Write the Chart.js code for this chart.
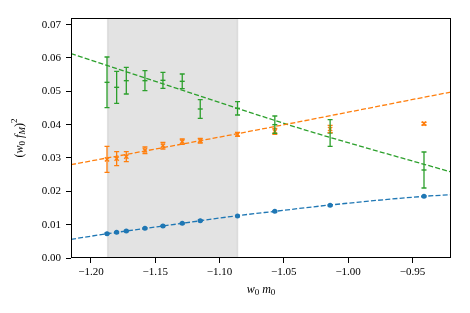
<!DOCTYPE html>
<html>
<head>
<meta charset="utf-8">
<script src="https://cdn.jsdelivr.net/npm/chart.js@4.4.1/dist/chart.umd.min.js"></script>
<style>
  html, body { margin: 0; padding: 0; background: #fff; }
  #wrap { width: 470px; height: 313px; }
</style>
</head>
<body>
<div id="wrap"><canvas id="myChart" width="470" height="313"></canvas></div>
<script>
const xVals = [-1.1875, -1.180, -1.1725, -1.158, -1.144, -1.129, -1.115, -1.086, -1.057, -1.014, -0.941];

const blueY = [0.0073, 0.0077, 0.0081, 0.0089, 0.0096, 0.0104, 0.0112, 0.0126, 0.0140, 0.0158, 0.0185];
const blueErr = [0.0002, 0.0002, 0.0002, 0.0002, 0.0002, 0.0002, 0.0002, 0.0002, 0.0002, 0.0002, 0.0002];

const orangeY = [0.0296, 0.0298, 0.0304, 0.0323, 0.0337, 0.0349, 0.0352, 0.0371, 0.0380, 0.0387, 0.0403];
const orangeErr = [0.0039, 0.0021, 0.0015, 0.0010, 0.0010, 0.0008, 0.0007, 0.0006, 0.0009, 0.0011, 0.0004];

const greenY = [0.0527, 0.0512, 0.0532, 0.0532, 0.0533, 0.0530, 0.0447, 0.0449, 0.0400, 0.0375, 0.0264];
const greenErr = [0.0076, 0.0048, 0.0040, 0.0030, 0.0024, 0.0022, 0.0028, 0.0020, 0.0026, 0.0040, 0.0054];

// fit curves
const blueFitX = [-1.2155, -1.187, -1.129, -1.086, -1.057, -1.014, -0.941, -0.920];
const blueFitY = [0.0056, 0.0073, 0.0104, 0.0127, 0.0140, 0.0159, 0.0185, 0.0190];
const orangeFitX = [-1.2155, -1.086, -0.920];
const orangeFitY = [0.0280, 0.0373, 0.0498];
const greenFitX = [-1.2155, -1.187, -1.086, -1.0325, -0.920];
const greenFitY = [0.0613, 0.0577, 0.0449, 0.0383, 0.0258];

const shadeRange = [-1.187, -1.086];

const xTicks = [-1.20, -1.15, -1.10, -1.05, -1.00, -0.95];
const yTicks = [0.00, 0.01, 0.02, 0.03, 0.04, 0.05, 0.06, 0.07];
const xRange = [-1.2155, -0.920];
const yRange = [0, 0.072];

const BLUE = '#1f77b4';
const ORANGE = '#ff7f0e';
const GREEN = '#2ca02c';
const FONT = "'Liberation Serif', 'DejaVu Serif', serif";

const pts = (xs, ys) => xs.map((x, i) => ({ x, y: ys[i] }));

function fitLine(xs, ys, color) {
    return {
        type: 'line',
        data: pts(xs, ys),
        borderColor: color,
        borderWidth: 1.3,
        borderDash: [5, 2.2],
        pointRadius: 0,
        cubicInterpolationMode: 'monotone',
        fill: false,
        order: 5,
    };
}

function markers(ys, errs, color, style, radius) {
    return {
        type: 'scatter',
        data: pts(xVals, ys),
        errs,
        borderColor: color,
        backgroundColor: color,
        pointStyle: style,
        pointRadius: radius,
        pointBorderWidth: 1.4,
        order: 1,
    };
}

// shaded band behind everything
const shadePlugin = {
    id: 'shade',
    beforeDatasetsDraw(chart) {
        const { ctx, chartArea, scales } = chart;
        const x0 = scales.x.getPixelForValue(shadeRange[0]);
        const x1 = scales.x.getPixelForValue(shadeRange[1]);
        ctx.save();
        ctx.fillStyle = 'rgba(128,128,128,0.22)';
        ctx.fillRect(x0, chartArea.top, x1 - x0, chartArea.bottom - chartArea.top);
        ctx.strokeStyle = 'rgba(128,128,128,0.18)';
        ctx.lineWidth = 1.5;
        ctx.beginPath();
        ctx.moveTo(x0, chartArea.top); ctx.lineTo(x0, chartArea.bottom);
        ctx.moveTo(x1, chartArea.top); ctx.lineTo(x1, chartArea.bottom);
        ctx.stroke();
        ctx.restore();
    }
};

// error bars with caps
const errorPlugin = {
    id: 'errbars',
    afterDatasetsDraw(chart) {
        const { ctx, scales } = chart;
        ctx.save();
        chart.data.datasets.forEach((ds) => {
            if (!ds.errs) return;
            ctx.strokeStyle = ds.borderColor;
            ctx.lineWidth = 1.3;
            ds.data.forEach((p, i) => {
                const e = ds.errs[i];
                const px = scales.x.getPixelForValue(p.x);
                const top = scales.y.getPixelForValue(p.y + e);
                const bot = scales.y.getPixelForValue(p.y - e);
                ctx.beginPath();
                ctx.moveTo(px, top); ctx.lineTo(px, bot);
                ctx.moveTo(px - 2.5, top); ctx.lineTo(px + 2.5, top);
                ctx.moveTo(px - 2.5, bot); ctx.lineTo(px + 2.5, bot);
                ctx.stroke();
            });
        });
        ctx.restore();
    }
};

// frame + axis titles with sub/superscripts
function drawPieces(ctx, pieces, cx, cy) {
    let w = 0;
    pieces.forEach(p => { ctx.font = p.font; w += ctx.measureText(p.t).width; });
    let x = cx - w / 2;
    pieces.forEach(p => {
        ctx.font = p.font;
        ctx.fillText(p.t, x, cy + (p.dy || 0));
        x += ctx.measureText(p.t).width;
    });
}

const framePlugin = {
    id: 'frame',
    afterDraw(chart) {
        const { ctx, chartArea } = chart;
        ctx.save();
        ctx.strokeStyle = '#000';
        ctx.lineWidth = 1;
        ctx.strokeRect(Math.round(chartArea.left) + 0.5, Math.round(chartArea.top) + 0.5,
            Math.round(chartArea.right - chartArea.left) - 1, Math.round(chartArea.bottom - chartArea.top) - 1);

        ctx.fillStyle = '#000';
        ctx.textBaseline = 'alphabetic';
        const it = `italic 12px ${FONT}`;
        const rg = `12px ${FONT}`;
        const sm = `9px ${FONT}`;
        const smi = `italic 9px ${FONT}`;
        const cx = (chartArea.left + chartArea.right) / 2;
        drawPieces(ctx, [
            { t: 'w', font: it }, { t: '0', font: sm, dy: 2 },
            { t: ' m', font: it }, { t: '0', font: sm, dy: 2 },
        ], cx, 293);

        ctx.translate(23, (chartArea.top + chartArea.bottom) / 2);
        ctx.rotate(-Math.PI / 2);
        drawPieces(ctx, [
            { t: '(', font: rg }, { t: 'w', font: it }, { t: '0', font: sm, dy: 2 },
            { t: ' f', font: it }, { t: 'M', font: smi, dy: 2 },
            { t: ')', font: rg }, { t: '2', font: sm, dy: -6 },
        ], 0, 0);
        ctx.restore();
    }
};

const fmt = (v) => (v < 0 ? '\u2212' : '') + Math.abs(v).toFixed(2);

new Chart(document.getElementById('myChart'), {
    data: {
        datasets: [
            fitLine(blueFitX, blueFitY, BLUE),
            fitLine(orangeFitX, orangeFitY, ORANGE),
            fitLine(greenFitX, greenFitY, GREEN),
            markers(blueY, blueErr, BLUE, 'circle', 1.8),
            markers(orangeY, orangeErr, ORANGE, 'crossRot', 3),
            markers(greenY, greenErr, GREEN, 'line', 2.5),
        ]
    },
    options: {
        responsive: false,
        animation: false,
        layout: { padding: { left: 0, right: 19, top: 18, bottom: 0 } },
        plugins: { legend: { display: false }, tooltip: { enabled: false } },
        scales: {
            x: {
                type: 'linear',
                min: xRange[0], max: xRange[1],
                afterBuildTicks: (s) => { s.ticks = xTicks.map(v => ({ value: v })); },
                afterFit: (s) => { s.height = 55; },
                grid: { drawOnChartArea: false, tickLength: 5, tickColor: '#000', tickWidth: 1 },
                border: { display: false },
                ticks: { color: '#000', font: { family: FONT, size: 11 }, padding: 3, maxRotation: 0, callback: fmt },
            },
            y: {
                type: 'linear',
                min: yRange[0], max: yRange[1],
                afterBuildTicks: (s) => { s.ticks = yTicks.map(v => ({ value: v })); },
                afterFit: (s) => { s.width = 71; },
                grid: { drawOnChartArea: false, tickLength: 5, tickColor: '#000', tickWidth: 1 },
                border: { display: false },
                ticks: { color: '#000', font: { family: FONT, size: 11 }, padding: 5, callback: fmt },
            }
        }
    },
    plugins: [shadePlugin, errorPlugin, framePlugin]
});
</script>
</body>
</html>
